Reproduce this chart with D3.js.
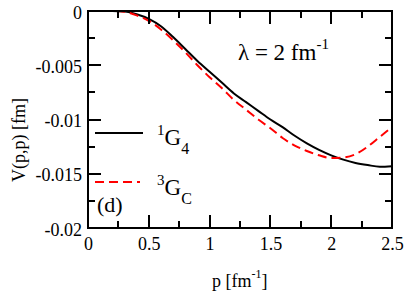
<!DOCTYPE html>
<html><head><meta charset="utf-8">
<script src="https://cdn.jsdelivr.net/npm/d3@7"></script>
<style>
html,body{margin:0;padding:0;background:#fff;}
text{font-family:"Liberation Serif","Times New Roman",serif;fill:#000;}
</style></head>
<body><svg id="c" width="408" height="300"></svg>
<script>
const momenta = [0,0.1,0.2,0.3,0.4,0.5,0.6,0.7,0.8,0.9,1.0,1.1,1.2,1.3,1.4,1.5,1.6,1.7,1.8,1.9,2.0,2.1,2.2,2.3,2.4,2.5];
const v1G4 = [0,0,0,-0.00005,-0.0003,-0.00072,-0.0014,-0.0024,-0.0035,-0.0046,-0.0056,-0.0066,-0.0076,-0.0084,-0.0092,-0.0100,-0.0107,-0.0115,-0.0122,-0.0128,-0.0133,-0.0137,-0.0140,-0.0142,-0.01435,-0.0143];
const v3GC = [0,0,0,-0.00008,-0.0004,-0.0009,-0.0017,-0.0027,-0.0038,-0.0050,-0.0061,-0.0071,-0.0082,-0.0091,-0.0100,-0.0108,-0.0117,-0.0124,-0.0129,-0.0133,-0.01355,-0.0135,-0.0132,-0.0125,-0.0116,-0.0107];
const xTicks = [0,0.5,1,1.5,2,2.5];
const xTickLabels = ["0","0.5","1","1.5","2","2.5"];
const xMinor = [0.25,0.75,1.25,1.75,2.25];
const yTicks = [0,-0.005,-0.01,-0.015,-0.02];
const yTickLabels = ["0","-0.005","-0.01","-0.015","-0.02"];
const yMinor = [-0.0025,-0.0075,-0.0125,-0.0175];

const svg = d3.select("#c");
const L=88, R=392, T=11, B=228;
const x = d3.scaleLinear().domain([0,2.5]).range([L,R]);
const y = d3.scaleLinear().domain([-0.02,0]).range([B,T]);

// curves
svg.append("defs").append("clipPath").attr("id","cp").append("rect")
  .attr("x",L).attr("y",T-1).attr("width",R-L).attr("height",B-T+1);
const lineGen = d3.line().x((d,i)=>x(momenta[i])).y(d=>y(d)).curve(d3.curveMonotoneX);
svg.append("path").datum(v1G4).attr("d",lineGen).attr("fill","none").attr("stroke","#000").attr("stroke-width",2).attr("clip-path","url(#cp)");
svg.append("path").datum(v3GC).attr("d",lineGen).attr("fill","none").attr("stroke","#ff0000").attr("stroke-width",2).attr("stroke-dasharray","9,5").attr("clip-path","url(#cp)");

// legend
svg.append("line").attr("x1",95).attr("x2",143).attr("y1",133).attr("y2",133).attr("stroke","#000").attr("stroke-width",2);
svg.append("line").attr("x1",95).attr("x2",140).attr("y1",182).attr("y2",182).attr("stroke","#ff0000").attr("stroke-width",2).attr("stroke-dasharray","9,5");
function specLabel(xp, yp, sup, main, sub){
  const t = svg.append("text").attr("x",xp).attr("y",yp).style("font-size","23px");
  t.append("tspan").text(sup).style("font-size","15px").attr("dy",-10);
  t.append("tspan").text(main).attr("dy",10);
  t.append("tspan").text(sub).style("font-size","16px").attr("dy",9);
}
specLabel(157,145,"1","G","4");
specLabel(157,195,"3","G","C");

svg.append("text").attr("x",97).attr("y",212).style("font-size","22px").text("(d)");

const lam = svg.append("text").attr("x",238).attr("y",60).style("font-size","23px");
lam.append("tspan").text("λ = 2 fm");
lam.append("tspan").text("-1").style("font-size","15px").attr("dy",-11);

const xl = svg.append("text").attr("x",212).attr("y",287).style("font-size","18px");
xl.append("tspan").text("p [fm");
xl.append("tspan").text("-1").style("font-size","12px").attr("dy",-9);
xl.append("tspan").text("]").attr("dy",9);

svg.append("text").attr("transform","translate(25,140) rotate(-90)").attr("text-anchor","middle").style("font-size","18px").text("V(p,p) [fm]");

// frame
svg.append("rect").attr("x",L).attr("y",T).attr("width",R-L).attr("height",B-T).attr("fill","none").attr("stroke","#000").attr("stroke-width",2);

// axis labels through d3 axes
function labelAxis(axisFn, scale, pos, values, labels, pad){
  const isX = (axisFn===d3.axisBottom || axisFn===d3.axisTop);
  const g = svg.append("g").attr("transform", isX ? `translate(0,${pos})` : `translate(${pos},0)`)
    .call(axisFn(scale).tickValues(values).tickSize(0).tickPadding(pad).tickFormat((d,i)=>labels[i]));
  g.select(".domain").remove();
  g.selectAll(".tick text").attr("font-family",null).style("font-size","18px");
  g.attr("font-family",null).attr("font-size",null);
  return g;
}
labelAxis(d3.axisBottom, x, B, xTicks, xTickLabels, 9);
labelAxis(d3.axisLeft, y, L, yTicks, yTickLabels, 6).selectAll(".tick text").attr("dy","0.4em");

// inward tick marks on all four sides, placed by the scales
const tickG = svg.append("g").attr("stroke","#000").attr("stroke-width",2).attr("fill","none");
function xTickPath(vals, len){
  return vals.map(v => { const px = Math.round(x(v)); return `M${px},${B}V${B-len}M${px},${T}V${T+len}`; }).join("");
}
function yTickPath(vals, len){
  return vals.map(v => { const py = Math.round(y(v)); return `M${L},${py}H${L+len}M${R},${py}H${R-len}`; }).join("");
}
tickG.append("path").attr("d", xTickPath(xTicks, 13));
tickG.append("path").attr("d", xTickPath(xMinor, 7));
tickG.append("path").attr("d", yTickPath(yTicks, 13));
tickG.append("path").attr("d", yTickPath(yMinor, 7));
</script></body></html>
